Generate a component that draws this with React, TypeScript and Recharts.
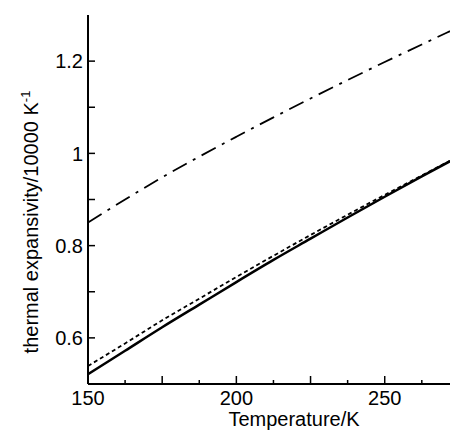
import { LineChart, Line, XAxis, YAxis } from 'recharts';

const temps = [150, 162.5, 175, 187.5, 200, 212.5, 225, 237.5, 250, 262.5, 272];
const solidVals = [0.521, 0.572, 0.623, 0.672, 0.721, 0.769, 0.815, 0.861, 0.906, 0.95, 0.983];
const dottedVals = [0.539, 0.588, 0.638, 0.685, 0.732, 0.778, 0.823, 0.867, 0.91, 0.952, 0.984];
const dashDotVals = [0.85, 0.9, 0.948, 0.993, 1.036, 1.078, 1.119, 1.159, 1.198, 1.236, 1.265];

const xTicks = [150, 162.5, 175, 187.5, 200, 212.5, 225, 237.5, 250, 262.5];
const yTicks = [0.6, 0.7, 0.8, 0.9, 1.0, 1.1, 1.2];
const xLabels = [150, 200, 250];
const yLabels = [0.6, 0.8, 1.0, 1.2];

const FONT = '"Liberation Sans", Arial, sans-serif';
const INK = '#000';

const data = temps.map((t, i) => ({
  t,
  solid: solidVals[i],
  dotted: dottedVals[i],
  dashDot: dashDotVals[i],
}));

function BottomTick({ x, y, payload }: any) {
  const v = payload.value;
  const len = v % 25 === 0 ? 8 : 4;
  return (
    <g>
      <line x1={x} y1={y} x2={x} y2={y - len} stroke={INK} strokeWidth={1.5} />
      {xLabels.includes(v) && (
        <text x={x} y={y + 21} textAnchor="middle" fontSize={20} fontFamily={FONT} fill={INK}>
          {v}
        </text>
      )}
    </g>
  );
}

function TopTick({ x, y, payload }: any) {
  const len = payload.value % 25 === 0 ? 8 : 4;
  return <line x1={x} y1={y} x2={x} y2={y + len} stroke={INK} strokeWidth={1.5} />;
}

function LeftTick({ x, y, payload }: any) {
  const v = Math.round(payload.value * 10) / 10;
  return (
    <g>
      <line x1={x} y1={y} x2={x + 7} y2={y} stroke={INK} strokeWidth={1.5} />
      {yLabels.includes(v) && (
        <text x={x - 5} y={y} dy="0.36em" textAnchor="end" fontSize={20} fontFamily={FONT} fill={INK}>
          {String(v)}
        </text>
      )}
    </g>
  );
}

function YTitle() {
  return (
    <text
      transform="translate(38, 222) rotate(-90)"
      textAnchor="middle"
      fontSize={20}
      fontFamily={FONT}
      fill={INK}
    >
      thermal expansivity/10000 K
      <tspan dy={-8} fontSize={13}>-1</tspan>
    </text>
  );
}

function XTitle({ viewBox }: any) {
  return (
    <text x={viewBox.x + 206} y={426} textAnchor="middle" fontSize={20} fontFamily={FONT} fill={INK}>
      Temperature/K
    </text>
  );
}

export default function App() {
  return (
    <div style={{ position: 'absolute', left: 0, top: 0 }}>
      <LineChart width={450} height={431} data={data} margin={{ top: 15, right: 0, bottom: 0, left: 0 }}>
        <XAxis
          dataKey="t"
          type="number"
          domain={[150, 272]}
          allowDataOverflow
          ticks={xTicks}
          interval={0}
          height={47}
          tickSize={0}
          tickMargin={0}
          tickLine={false}
          axisLine={{ stroke: INK, strokeWidth: 2 }}
          tick={<BottomTick />}
          label={(p: any) => <XTitle {...p} />}
        />
        <XAxis
          xAxisId="top"
          dataKey="t"
          type="number"
          orientation="top"
          domain={[150, 272]}
          allowDataOverflow
          ticks={xTicks}
          interval={0}
          height={0}
          tickSize={0}
          tickMargin={0}
          tickLine={false}
          axisLine={{ stroke: INK, strokeWidth: 2 }}
          tick={<TopTick />}
        />
        <YAxis
          type="number"
          domain={[0.5, 1.3]}
          allowDataOverflow
          ticks={yTicks}
          interval={0}
          width={88}
          tickSize={0}
          tickMargin={0}
          tickLine={false}
          axisLine={{ stroke: INK, strokeWidth: 2 }}
          tick={<LeftTick />}
          label={() => <YTitle />}
        />
        <Line type="monotone" dataKey="dashDot" stroke={INK} strokeWidth={1.8} strokeDasharray="16 7 3 7" dot={false} isAnimationActive={false} />
        <Line type="monotone" dataKey="dotted" stroke={INK} strokeWidth={1.8} strokeDasharray="4 3" dot={false} isAnimationActive={false} />
        <Line type="monotone" dataKey="solid" stroke={INK} strokeWidth={2.5} dot={false} isAnimationActive={false} />
      </LineChart>
    </div>
  );
}
